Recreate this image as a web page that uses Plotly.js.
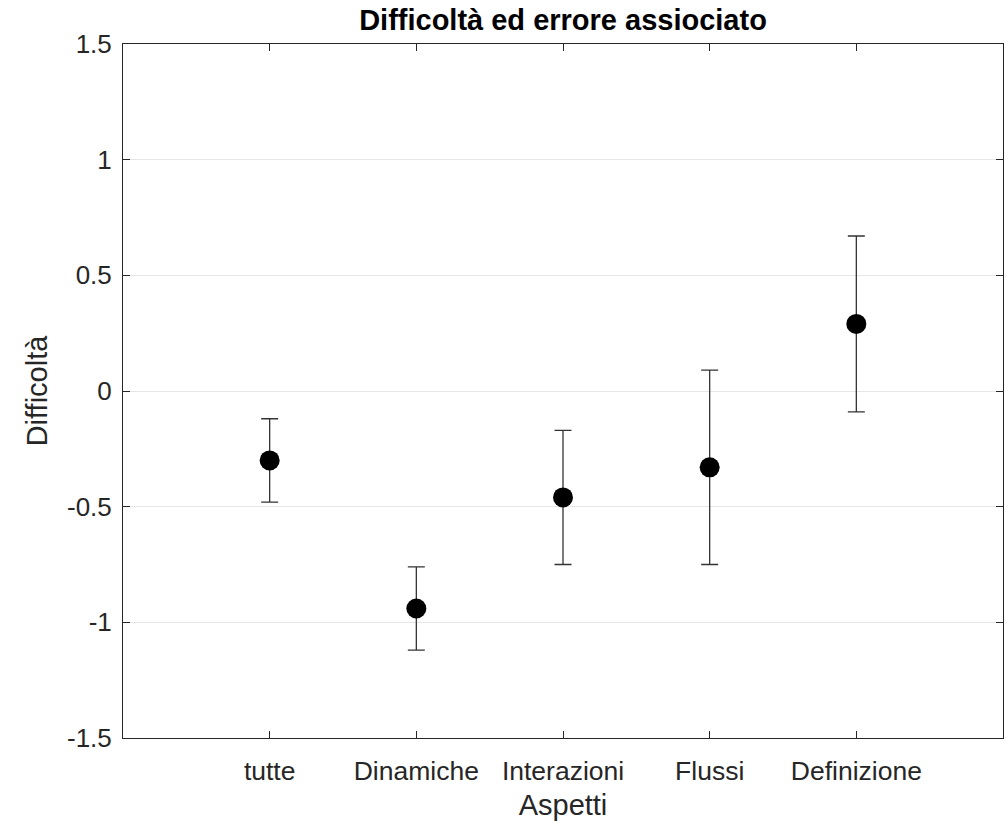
<!DOCTYPE html>
<html>
<head>
<meta charset="utf-8">
<script src="https://cdn.plot.ly/plotly-3.0.1.min.js"></script>
<style>html,body{margin:0;padding:0;background:#fff;}#chart{width:1004px;height:826px;}</style>
</head>
<body>
<div id="chart"></div>
<script>
const categories = ["tutte", "Dinamiche", "Interazioni", "Flussi", "Definizione"];
const positions = [1, 2, 3, 4, 5];
const difficulty = [-0.30, -0.94, -0.46, -0.33, 0.29];
const errors = [0.18, 0.18, 0.29, 0.42, 0.38];
const yTicks = [-1.5, -1, -0.5, 0, 0.5, 1, 1.5];
const yTickText = ["-1.5", "-1", "-0.5", "0", "0.5", "1", "1.5"];

const trace = {
  x: positions,
  y: difficulty,
  type: "scatter",
  mode: "markers",
  marker: {size: 20, color: "#000000"},
  error_y: {type: "data", array: errors, visible: true, color: "#333333", thickness: 1.3, width: 8.5},
  hoverinfo: "x+y"
};

const fontFam = "Liberation Sans, Arial, Helvetica, sans-serif";
const layout = {
  width: 1004, height: 826,
  margin: {l: 123, r: 1, t: 44, b: 88},
  paper_bgcolor: "#ffffff",
  plot_bgcolor: "#ffffff",
  showlegend: false,
  font: {family: fontFam, color: "#262626", size: 26},
  title: {text: "<b>Difficoltà ed errore assiociato</b>", font: {family: fontFam, size: 29, color: "#000000"},
          x: 0.5, xanchor: "center", y: 0.976, yanchor: "middle", yref: "container", xref: "paper"},
  xaxis: {
    range: [0, 6],
    tickmode: "array", tickvals: positions, ticktext: categories,
    ticks: "inside", ticklen: 7, tickcolor: "#262626", tickwidth: 1,
    showline: true, linecolor: "#262626", linewidth: 1, mirror: "ticks",
    showgrid: false, zeroline: false,
    tickfont: {size: 26.5, color: "#262626"},
    ticklabelstandoff: 9,
    title: {text: "Aspetti", font: {size: 29, color: "#262626"}, standoff: 9}
  },
  yaxis: {
    range: [-1.5, 1.5],
    tickmode: "array", tickvals: yTicks, ticktext: yTickText,
    ticks: "inside", ticklen: 7, tickcolor: "#262626", tickwidth: 1,
    showline: true, linecolor: "#262626", linewidth: 1, mirror: "ticks",
    showgrid: true, gridcolor: "#e6e6e6", gridwidth: 1, zeroline: false,
    tickfont: {size: 26, color: "#262626"},
    ticklabelstandoff: 5,
    title: {text: "Difficoltà", font: {size: 29, color: "#262626"}, standoff: 10}
  }
};

Plotly.newPlot("chart", [trace], layout, {displayModeBar: false, staticPlot: true});
</script>
</body>
</html>
